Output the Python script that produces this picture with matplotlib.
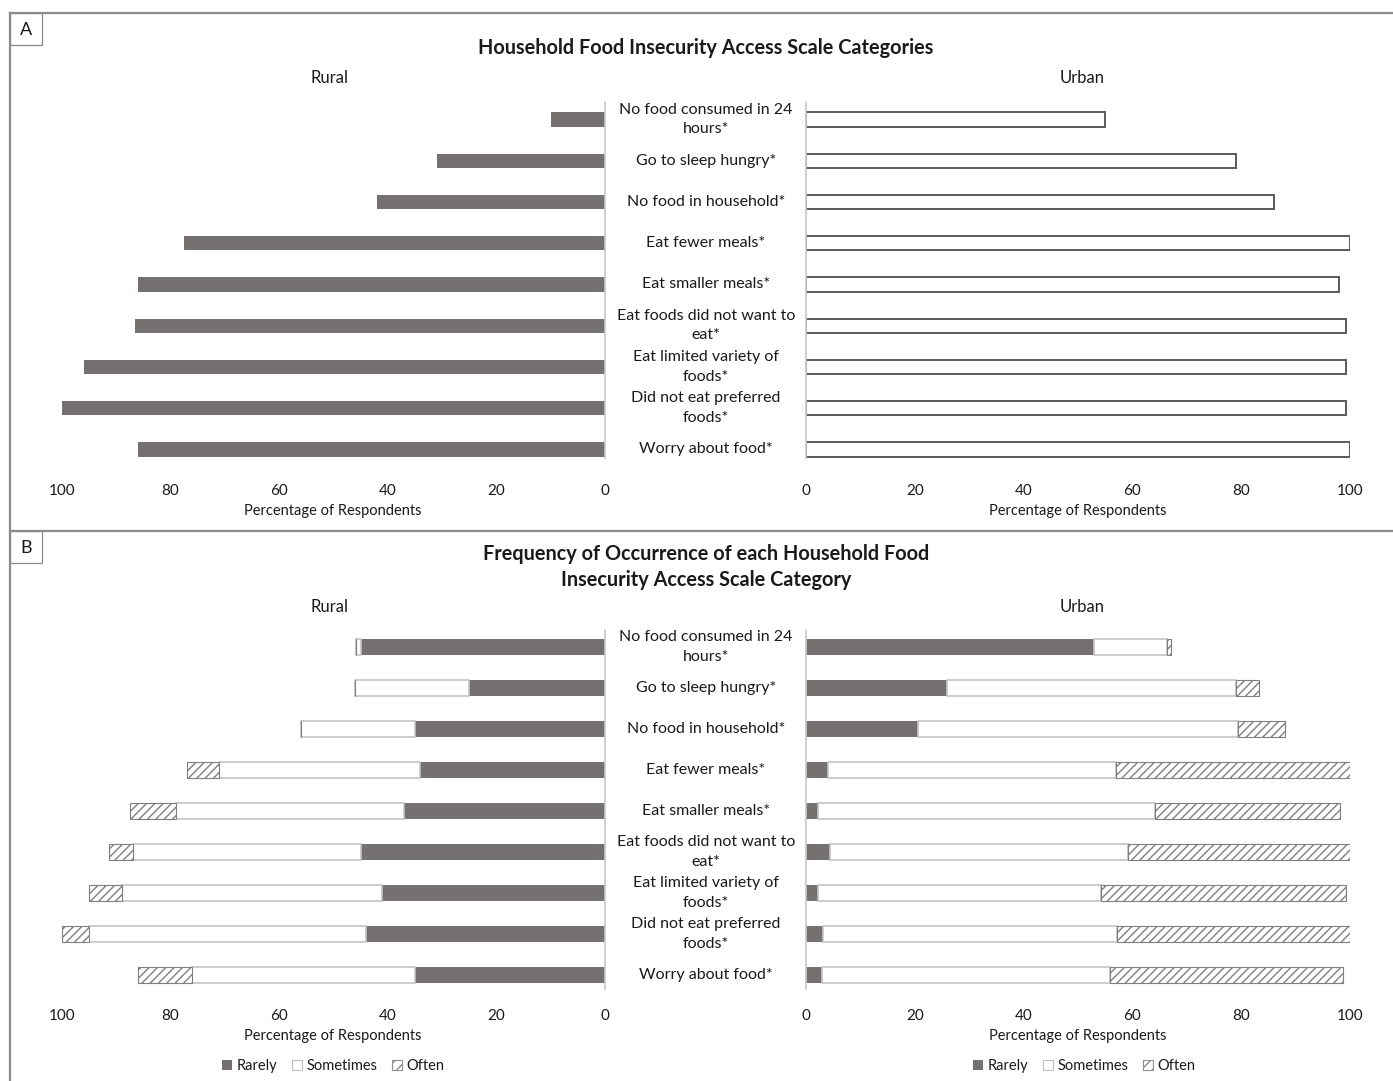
import matplotlib
matplotlib.use("Agg")
import matplotlib.pyplot as plt
from matplotlib.lines import Line2D
from matplotlib.patches import Rectangle, Patch
from matplotlib.transforms import blended_transform_factory
import numpy as np

plt.rcParams['font.family'] = ['Lato', 'DejaVu Sans']
plt.rcParams['hatch.linewidth'] = 1.0

categories = ["No food consumed in 24\nhours*", "Go to sleep hungry*", "No food in household*",
              "Eat fewer meals*", "Eat smaller meals*", "Eat foods did not want to\neat*",
              "Eat limited variety of\nfoods*", "Did not eat preferred\nfoods*", "Worry about food*"]

rural_a = [10, 31, 42, 77.5, 86, 86.5, 96, 100, 86]
urban_a = [55, 79, 86, 100, 98, 99.3, 99.3, 99.3, 100]

rural_rarely = [45, 25, 35, 34, 37, 45, 41, 44, 35]
rural_sometimes = [0.8, 21, 21, 37, 42, 42, 48, 51, 41]
rural_often = [0, 0, 0, 6, 8.5, 4.3, 6, 5, 10]
urban_rarely = [53, 26, 20.5, 4, 2.2, 4.4, 2.2, 3.1, 3]
urban_sometimes = [13.3, 53, 59, 53, 62, 54.7, 52, 54, 52.8]
urban_often = [0.8, 4.3, 8.5, 43, 34, 40.9, 45, 42.9, 43]

xticks = [0, 20, 40, 60, 80, 100]
legend_labels = ["Rarely", "Sometimes", "Often"]

W, H = 1393, 1081
fig = plt.figure(figsize=(W / 100, H / 100), dpi=100)

def fx(x):
    return x / W

def fy(y):
    return 1 - y / H

def add_ax(x0, x1, ytop, ybot):
    return fig.add_axes([fx(x0), fy(ybot), (x1 - x0) / W, (ybot - ytop) / H])

DARK = '#767171'
FRAME = '#8a8a8a'
TXT = '#1a1a1a'
n = len(categories)
ypos = np.arange(n)

def style(ax, side, spine_bounds, pad):
    for s in ['top', 'bottom', 'left', 'right']:
        ax.spines[s].set_visible(False)
    ax.spines[side].set_visible(True)
    ax.spines[side].set_color('#c8c8c8')
    ax.spines[side].set_linewidth(1.2)
    ax.spines[side].set_bounds(*spine_bounds)
    ax.set_ylim(n - 0.5, -0.5)
    ax.set_yticks([])
    ax.set_xticks(xticks)
    ax.set_xticklabels([str(t) for t in xticks])
    ax.tick_params(axis='x', length=0, pad=pad, labelsize=11, labelcolor=TXT)
    ax.set_facecolor('none')

# ---------------- Panel A ----------------
A_top, A_bot = 99, 470
axAr = add_ax(62, 605, A_top, A_bot)
axAu = add_ax(806, 1350, A_top, A_bot)

axAr.barh(ypos, rural_a, height=0.35, color=DARK, edgecolor='none')
axAr.set_xlim(100, 0)
style(axAr, 'right', (-0.42, 8.22), 10)

axAu.barh(ypos, urban_a, height=0.35, color='white', edgecolor='#5a5a5a', linewidth=1.4)
axAu.set_xlim(0, 100)
style(axAu, 'left', (-0.42, 8.22), 10)

trA = blended_transform_factory(fig.transFigure, axAr.transData)
for i, c in enumerate(categories):
    axAr.text(fx(706), i, c, transform=trA, ha='center', va='center', fontsize=11.5,
              color=TXT, linespacing=1.5, clip_on=False)

fig.text(fx(706), fy(48), "Household Food Insecurity Access Scale Categories", ha='center',
         va='center', fontsize=14.3, fontweight='bold', color=TXT)
fig.text(fx(329), fy(78), "Rural", ha='center', va='center', fontsize=12, color=TXT)
fig.text(fx(1082), fy(78), "Urban", ha='center', va='center', fontsize=12, color=TXT)
fig.text(fx(333), fy(511), "Percentage of Respondents", ha='center', va='center', fontsize=10.5, color=TXT)
fig.text(fx(1078), fy(511), "Percentage of Respondents", ha='center', va='center', fontsize=10.5, color=TXT)

# ---------------- Panel B ----------------
B_top, B_bot = 626.5, 995.2
axBr = add_ax(62, 605, B_top, B_bot)
axBu = add_ax(806, 1350, B_top, B_bot)

HATCH = '////'
BH = 0.39

def stacked(ax, r, s, o):
    r = np.array(r); s = np.array(s); o = np.array(o)
    ax.barh(ypos, r, height=BH, color=DARK, edgecolor='none', label=legend_labels[0])
    ax.barh(ypos, s, left=r, height=BH, color='white', edgecolor='#c4c4c4', linewidth=1.2,
            label=legend_labels[1])
    ax.barh(ypos, o, left=r + s, height=BH, color='white', edgecolor='#7f7f7f', linewidth=0.8,
            hatch=HATCH, label=legend_labels[2])

stacked(axBr, rural_rarely, rural_sometimes, rural_often)
axBr.set_xlim(100, 0)
style(axBr, 'right', (-0.41, 8.35), 10)

stacked(axBu, urban_rarely, urban_sometimes, urban_often)
axBu.set_xlim(0, 100)
style(axBu, 'left', (-0.41, 8.35), 10)

trB = blended_transform_factory(fig.transFigure, axBr.transData)
for i, c in enumerate(categories):
    axBr.text(fx(706), i, c, transform=trB, ha='center', va='center', fontsize=11.5,
              color=TXT, linespacing=1.5, clip_on=False)

fig.text(fx(706), fy(567), "Frequency of Occurrence of each Household Food\nInsecurity Access Scale Category",
         ha='center', va='center', fontsize=14.3, fontweight='bold', color=TXT, linespacing=1.4)
fig.text(fx(329), fy(607), "Rural", ha='center', va='center', fontsize=12, color=TXT)
fig.text(fx(1082), fy(607), "Urban", ha='center', va='center', fontsize=12, color=TXT)
fig.text(fx(333), fy(1036), "Percentage of Respondents", ha='center', va='center', fontsize=10.5, color=TXT)
fig.text(fx(1078), fy(1036), "Percentage of Respondents", ha='center', va='center', fontsize=10.5, color=TXT)

def leg_handles():
    return [Patch(facecolor=DARK, edgecolor='none'),
            Patch(facecolor='white', edgecolor='#bdbdbd', linewidth=0.8),
            Patch(facecolor='white', edgecolor='#8f8f8f', hatch='///', linewidth=0.8)]

for cx in (333, 1084):
    fig.legend(leg_handles(), legend_labels, loc='center', bbox_to_anchor=(fx(cx), fy(1066)),
               ncol=3, frameon=False, fontsize=10.5, handlelength=0.7, handleheight=0.7,
               handletextpad=0.3, columnspacing=1.0, labelcolor=TXT)

# ---------------- Frame ----------------
lw = 1.6
fig.add_artist(Line2D([fx(10), 1.0], [fy(13), fy(13)], color=FRAME, lw=lw))
fig.add_artist(Line2D([fx(10), fx(10)], [fy(13), 0.0], color=FRAME, lw=lw))
fig.add_artist(Line2D([fx(10), 1.0], [fy(531), fy(531)], color=FRAME, lw=lw))
for (y0, lab) in ((13, "A"), (531, "B")):
    fig.add_artist(Rectangle((fx(10), fy(y0 + 32)), 32 / W, 32 / H, transform=fig.transFigure,
                             facecolor='none', edgecolor=FRAME, lw=0.9))
    fig.text(fx(26), fy(y0 + 17), lab, ha='center', va='center', fontsize=13, color=TXT)

fig.savefig("out.png", dpi=100, facecolor='white')
